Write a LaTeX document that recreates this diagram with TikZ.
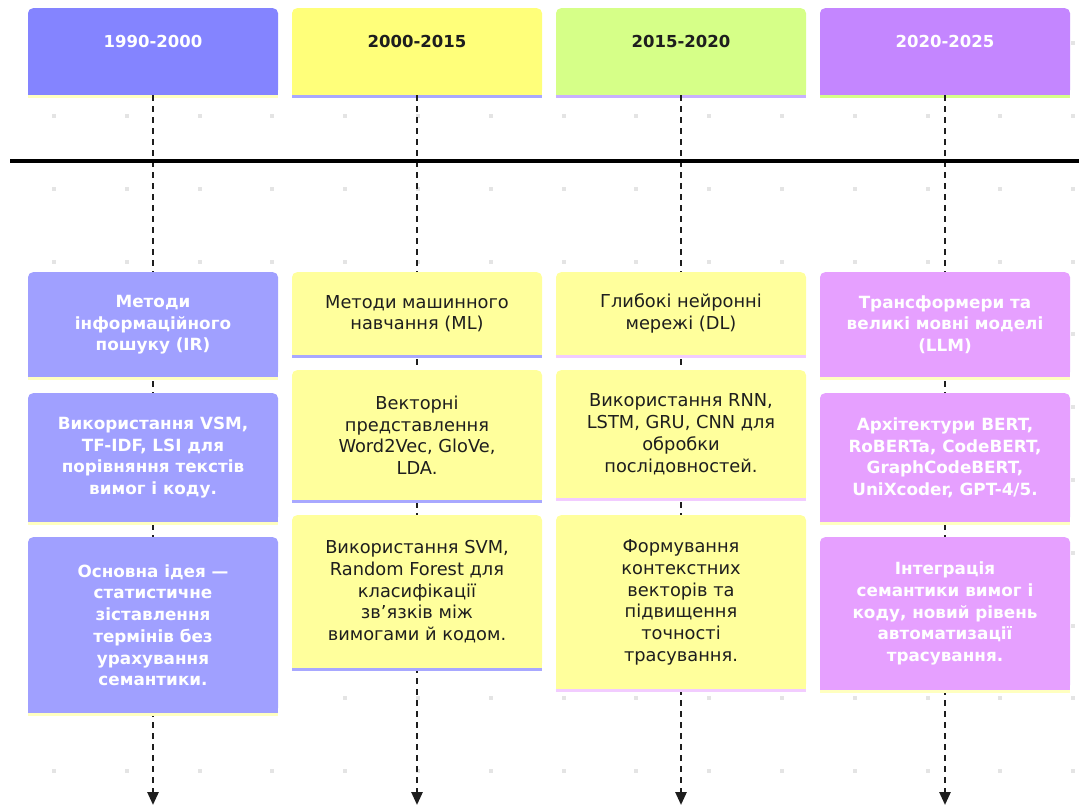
\documentclass[tikz,border=0pt]{standalone}
\usepackage{fontspec}
\setmainfont{DejaVu Sans}
\usetikzlibrary{arrows.meta}

% period colours
\definecolor{hA}{HTML}{8484FF}
\definecolor{hB}{HTML}{FFFF7A}
\definecolor{hC}{HTML}{D6FF88}
\definecolor{hD}{HTML}{C486FF}
\definecolor{eA}{HTML}{A0A0FF}
\definecolor{eB}{HTML}{FFFF9C}
\definecolor{eD}{HTML}{E6A0FF}
% thin strips under the boxes
\definecolor{uPale}{HTML}{FFFFC0}
\definecolor{uLav}{HTML}{A8A8FF}
\definecolor{uLav2}{HTML}{C8B0FF}
\definecolor{uPink}{HTML}{F2CCFF}
\definecolor{uLime}{HTML}{D6FF88}
\definecolor{ink}{HTML}{1E1E1E}
\definecolor{dotgray}{HTML}{E4E4E4}

\tikzset{
  hdr/.style={anchor=north, minimum width=250pt, minimum height=87pt,
    inner sep=0pt, rounded corners=5pt},
  yeartxt/.style={font=\bfseries\fontsize{16.5}{19}\selectfont},
  evbox/.style={anchor=north, minimum width=250pt, inner sep=0pt,
    rounded corners=5pt, align=center},
  litetxt/.style={text=white, font=\bfseries\fontsize{16.8}{21.7}\selectfont},
  darktxt/.style={text=ink, font=\fontsize{17.8}{21.7}\selectfont},
  guideline/.style={draw=ink, line width=2.6pt, dash pattern=on 6pt off 5pt,
    -{Triangle[width=11pt,length=13pt]}},
  timeaxis/.style={draw=black, line width=3.5pt},
}

% square off the lower corners of a box and add its coloured strip
\newcommand\boxbase[3]{%
  \fill[#2] ([yshift=6pt]#1.south west) rectangle (#1.south east);
  \fill[#3] (#1.south west) rectangle ([yshift=-3pt]#1.south east);}

\begin{document}
\begin{tikzpicture}[x=1pt,y=-1pt]
\useasboundingbox (0,0) rectangle (1079,807);
\fill[white] (0,0) rectangle (1079,807);

% dotted background grid
\foreach \i in {0,...,14}
  \foreach \j in {0,...,10}
    \fill[dotgray] ({54+72.8*\i-2},{43.2+72.8*\j-2}) rectangle ++(4,4);

% period headers
\node[hdr, fill=hA] (h1) at (153,8) {};
\node[hdr, fill=hB] (h2) at (417,8) {};
\node[hdr, fill=hC] (h3) at (681,8) {};
\node[hdr, fill=hD] (h4) at (945,8) {};
\boxbase{h1}{hA}{uPale}
\boxbase{h2}{hB}{uLav}
\boxbase{h3}{hC}{uLav2}
\boxbase{h4}{hD}{uLime}
\node[yeartxt, text=white] (y1) at (153,41) {1990-2000};
\node[yeartxt, text=ink]   (y2) at (417,41) {2000-2015};
\node[yeartxt, text=ink]   (y3) at (681,41) {2015-2020};
\node[yeartxt, text=white] (y4) at (945,41) {2020-2025};

% ends of the period guides
\coordinate (t1) at (153,805);
\coordinate (t2) at (417,805);
\coordinate (t3) at (681,805);
\coordinate (t4) at (945,805);
\draw[guideline] (h1.south) -- (t1);
\draw[guideline] (h2.south) -- (t2);
\draw[guideline] (h3.south) -- (t3);
\draw[guideline] (h4.south) -- (t4);

% time axis
\coordinate (ax0) at (10,161);
\coordinate (ax1) at (1079,161);
\draw[timeaxis] (ax0) -- (ax1);

% 1990-2000
\node[evbox, litetxt, fill=eA, minimum height=105pt] (a1) at (153,272)
  {Методи\\інформаційного\\пошуку (IR)};
\node[evbox, litetxt, fill=eA, minimum height=129pt] (a2) at (153,393)
  {Використання VSM,\\TF-IDF, LSI для\\порівняння текстів\\вимог і коду.};
\node[evbox, litetxt, fill=eA, minimum height=176pt] (a3) at (153,537)
  {Основна ідея —\\статистичне\\зіставлення\\термінів без\\урахування\\семантики.};
\boxbase{a1}{eA}{uPale}
\boxbase{a2}{eA}{uPale}
\boxbase{a3}{eA}{uPale}

% 2000-2015
\node[evbox, darktxt, fill=eB, minimum height=83pt] (b1) at (417,272)
  {Методи машинного\\навчання (ML)};
\node[evbox, darktxt, fill=eB, minimum height=130pt] (b2) at (417,370)
  {Векторні\\представлення\\Word2Vec, GloVe,\\LDA.};
\node[evbox, darktxt, fill=eB, minimum height=153pt] (b3) at (417,515)
  {Використання SVM,\\Random Forest для\\класифікації\\зв’язків між\\вимогами й кодом.};
\boxbase{b1}{eB}{uLav}
\boxbase{b2}{eB}{uLav}
\boxbase{b3}{eB}{uLav}

% 2015-2020
\node[evbox, darktxt, fill=eB, minimum height=83pt] (c1) at (681,272)
  {Глибокі нейронні\\мережі (DL)};
\node[evbox, darktxt, fill=eB, minimum height=128pt] (c2) at (681,370)
  {Використання RNN,\\LSTM, GRU, CNN для\\обробки\\послідовностей.};
\node[evbox, darktxt, fill=eB, minimum height=174pt] (c3) at (681,515)
  {Формування\\контекстних\\векторів та\\підвищення\\точності\\трасування.};
\boxbase{c1}{eB}{uPink}
\boxbase{c2}{eB}{uPink}
\boxbase{c3}{eB}{uPink}

% 2020-2025
\node[evbox, litetxt, fill=eD, minimum height=105pt] (d1) at (945,272)
  {Трансформери та\\великі мовні моделі\\(LLM)};
\node[evbox, litetxt, fill=eD, minimum height=129pt] (d2) at (945,393)
  {Архітектури BERT,\\RoBERTa, CodeBERT,\\GraphCodeBERT,\\UniXcoder, GPT-4/5.};
\node[evbox, litetxt, fill=eD, minimum height=153pt] (d3) at (945,537)
  {Інтеграція\\семантики вимог і\\коду, новий рівень\\автоматизації\\трасування.};
\boxbase{d1}{eD}{uPale}
\boxbase{d2}{eD}{uPale}
\boxbase{d3}{eD}{uPale}
\end{tikzpicture}
\end{document}
